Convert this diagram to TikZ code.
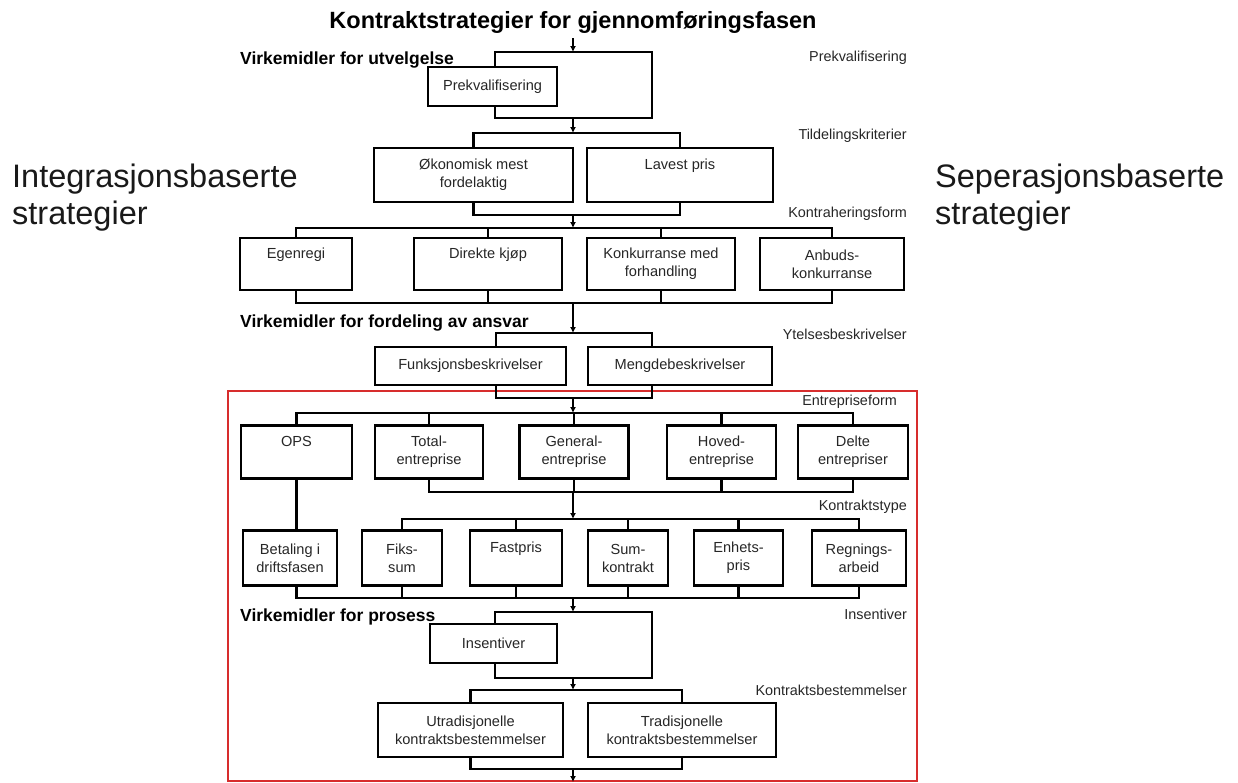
\documentclass[tikz,border=0pt]{standalone}
\usepackage{fontspec}
\setmainfont{Liberation Sans}
\usetikzlibrary{arrows.meta}
\definecolor{frame}{RGB}{215,45,45}
\begin{document}
\begin{tikzpicture}[x=1pt,y=-1pt,
 box/.style={draw,line width=2.5pt,inner sep=0pt,outer sep=0pt,align=center,text=black!85,font=\fontsize{14.6}{18}\selectfont},
 ln/.style={line width=2.2pt},
 arr/.style={line width=2.2pt,-{Latex[length=6pt,width=6pt]}},
 lab/.style={anchor=base east,font=\fontsize{14.4}{17}\selectfont,inner sep=0pt,text=black!85},
 sec/.style={anchor=base west,font=\fontsize{17.5}{20}\selectfont\bfseries,inner sep=0pt},
 side/.style={anchor=base west,font=\fontsize{32.5}{34}\selectfont,inner sep=0pt,text=black!90}
]
\useasboundingbox (0,0) rectangle (1238,782);

% title and side texts
\node[anchor=base,inner sep=0pt,font=\fontsize{23.5}{28}\selectfont\bfseries] (title) at (573,28) {Kontraktstrategier for gjennomføringsfasen};
\node[side] (il1) at (12,187) {Integrasjonsbaserte};
\node[side] (il2) at (12,224) {strategier};
\node[side] (sl1) at (935,187) {Seperasjonsbaserte};
\node[side] (sl2) at (935,224) {strategier};

% section labels
\node[sec] (v1) at (240,64) {Virkemidler for utvelgelse};
\node[sec] (v2) at (240,327) {Virkemidler for fordeling av ansvar};
\node[sec] (v3) at (240,621) {Virkemidler for prosess};

% right labels
\node[lab] (r1) at (907,61) {Prekvalifisering};
\node[lab] (r2) at (907,139) {Tildelingskriterier};
\node[lab] (r3) at (907,217) {Kontraheringsform};
\node[lab] (r4) at (907,339) {Ytelsesbeskrivelser};
\node[lab] (r5) at (897,405) {Entrepriseform};
\node[lab] (r6) at (907,510) {Kontraktstype};
\node[lab] (r7) at (907,619) {Insentiver};
\node[lab] (r8) at (907,695) {Kontraktsbestemmelser};

% red frame
\draw[frame,line width=1.6pt] (228,391) rectangle (917,781);

% boxes
\node[box,minimum width=129pt,minimum height=39pt] (prek) at (492.5,86.5) {Prekvalifisering};
\node[box,minimum width=199pt,minimum height=54pt] (oko) at (473.5,175) {Økonomisk mest\\fordelaktig};
\node[box,minimum width=186pt,minimum height=54pt] (lav) at (680,175) {Lavest pris\\\phantom{Ag}};

\node[box,minimum width=112pt,minimum height=52pt] (ege) at (296,264) {Egenregi\\\phantom{Ag}};
\node[box,minimum width=148pt,minimum height=52pt] (dir) at (488,264) {Direkte kjøp\\\phantom{Ag}};
\node[box,minimum width=148pt,minimum height=52pt] (kon) at (661,264) {Konkurranse med\\forhandling};
\node[box,minimum width=144pt,minimum height=52pt] (anb) at (832,264) {Anbuds-\\konkurranse};

\node[box,minimum width=191pt,minimum height=38pt] (fun) at (470.5,366) {Funksjonsbeskrivelser};
\node[box,minimum width=184pt,minimum height=38pt] (men) at (680,366) {Mengdebeskrivelser};

\node[box,minimum width=111pt,minimum height=53pt] (ops) at (296.5,452) {OPS\\\phantom{Ag}};
\node[box,minimum width=108pt,minimum height=53pt] (tot) at (429,452) {Total-\\entreprise};
\node[box,minimum width=109pt,minimum height=53pt] (gen) at (574,452) {General-\\entreprise};
\node[box,minimum width=109pt,minimum height=53pt] (hov) at (721.5,452) {Hoved-\\entreprise};
\node[box,minimum width=110pt,minimum height=53pt] (del) at (853,452) {Delte\\entrepriser};

\node[box,minimum width=94pt,minimum height=55pt] (bet) at (290,558) {Betaling i\\driftsfasen};
\node[box,minimum width=80pt,minimum height=55pt] (fik) at (402,558) {Fiks-\\sum};
\node[box,minimum width=92pt,minimum height=55pt] (fas) at (516,558) {Fastpris\\\phantom{Ag}};
\node[box,minimum width=80pt,minimum height=55pt] (sum) at (628,558) {Sum-\\kontrakt};
\node[box,minimum width=89pt,minimum height=55pt] (enh) at (738.5,558) {Enhets-\\pris};
\node[box,minimum width=94pt,minimum height=55pt] (reg) at (859,558) {Regnings-\\arbeid};

\node[box,minimum width=127pt,minimum height=39pt] (ins) at (493.5,643.5) {Insentiver};

\node[box,minimum width=185pt,minimum height=54pt] (utr) at (470.5,730) {Utradisjonelle\\kontraktsbestemmelser};
\node[box,minimum width=188pt,minimum height=54pt] (tra) at (682,730) {Tradisjonelle\\kontraktsbestemmelser};

% junction coordinates
\coordinate (in0) at (573,38);
\coordinate (t1) at (573,52);  \coordinate (t1L) at (495,52);  \coordinate (t1R) at (652,52);
\coordinate (u1) at (573,118); \coordinate (u1L) at (495,118); \coordinate (u1R) at (652,118);
\coordinate (t2) at (573,133);
\coordinate (u2) at (573,215);
\coordinate (t3) at (573,228);
\coordinate (u3) at (573,303);
\coordinate (t4) at (573,333); \coordinate (t4L) at (496,333); \coordinate (t4R) at (652,333);
\coordinate (u4) at (573,398); \coordinate (u4L) at (496,398); \coordinate (u4R) at (652,398);
\coordinate (t5) at (573,413);
\coordinate (u5) at (573,492);
\coordinate (t6) at (573,519);
\coordinate (u6) at (573,598);
\coordinate (t7) at (573,612); \coordinate (t7L) at (495,612); \coordinate (t7R) at (652,612);
\coordinate (u7) at (573,678); \coordinate (u7L) at (495,678); \coordinate (u7R) at (652,678);
\coordinate (t8) at (573,690);
\coordinate (u8) at (573,769);
\coordinate (out) at (573,782);

% bracket 1 (prekvalifisering)
\draw[arr] (in0) -- (t1);
\draw[ln] (prek.north -| t1L) -- (t1L) -- (t1R) -- (u1R) -- (u1L) -- (prek.south -| u1L);
\draw[arr] (u1) -- (t2);

% bracket 2
\draw[ln] (oko.north) |- (t2) -| (lav.north);
\draw[ln] (oko.south) |- (u2) -| (lav.south);
\draw[arr] (u2) -- (t3);

% row 3
\draw[ln] (ege.north) |- (t3) -| (anb.north);
\draw[ln] (dir.north) -- (dir.north |- t3);
\draw[ln] (kon.north) -- (kon.north |- t3);
\draw[ln] (ege.south) |- (u3) -| (anb.south);
\draw[ln] (dir.south) -- (dir.south |- u3);
\draw[ln] (kon.south) -- (kon.south |- u3);
\draw[arr] (u3) -- (t4);

% bracket 4
\draw[ln] (fun.north -| t4L) -- (t4L) -- (t4R) -- (men.north -| t4R);
\draw[ln] (fun.south -| u4L) -- (u4L) -- (u4R) -- (men.south -| u4R);
\draw[arr] (u4) -- (t5);

% row 5
\draw[ln] (ops.north) |- (t5) -| (del.north);
\draw[ln] (tot.north) -- (tot.north |- t5);
\draw[ln] (gen.north) -- (gen.north |- t5);
\draw[ln] (hov.north) -- (hov.north |- t5);
\draw[ln] (tot.south) |- (u5) -| (del.south);
\draw[ln] (gen.south) -- (gen.south |- u5);
\draw[ln] (hov.south) -- (hov.south |- u5);
\draw[ln] (ops.south) -- (bet.north -| ops.south);
\draw[arr] (u5) -- (t6);

% row 6
\draw[ln] (fik.north) |- (t6) -| (reg.north);
\draw[ln] (fas.north) -- (fas.north |- t6);
\draw[ln] (sum.north) -- (sum.north |- t6);
\draw[ln] (enh.north) -- (enh.north |- t6);
\draw[ln] (bet.south -| ops.south) |- (u6) -| (reg.south);
\draw[ln] (fik.south) -- (fik.south |- u6);
\draw[ln] (fas.south) -- (fas.south |- u6);
\draw[ln] (sum.south) -- (sum.south |- u6);
\draw[ln] (enh.south) -- (enh.south |- u6);
\draw[arr] (u6) -- (t7);

% bracket 7 (insentiver)
\draw[ln] (ins.north -| t7L) -- (t7L) -- (t7R) -- (u7R) -- (u7L) -- (ins.south -| u7L);
\draw[arr] (u7) -- (t8);

% bracket 8
\draw[ln] (utr.north) |- (t8) -| (tra.north);
\draw[ln] (utr.south) |- (u8) -| (tra.south);
\draw[arr] (u8) -- (out);
\end{tikzpicture}
\end{document}
